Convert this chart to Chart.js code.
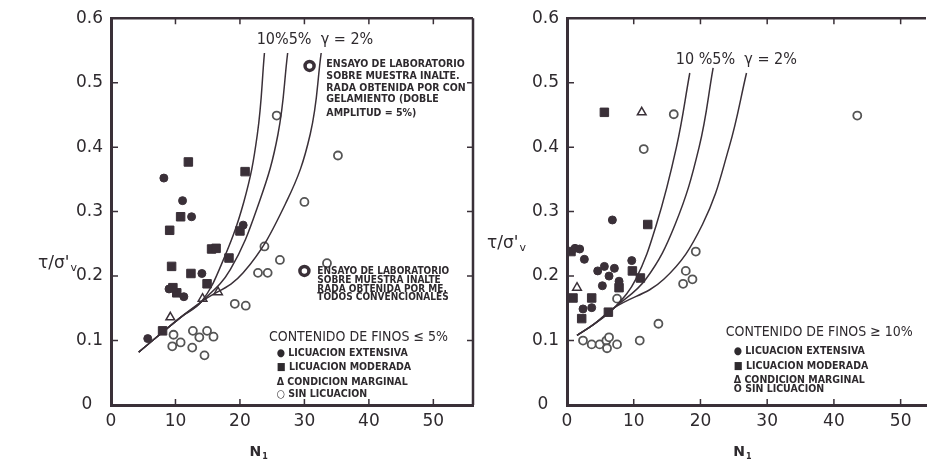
<!DOCTYPE html>
<html>
<head>
<meta charset="utf-8">
<script src="https://cdn.jsdelivr.net/npm/chart.js@4.4.1/dist/chart.umd.min.js"></script>
<style>
html, body { margin: 0; padding: 0; background: #fff; }
#wrap { position: relative; width: 933px; height: 462px; overflow: hidden; }
canvas { position: absolute; top: 0; }
</style>
</head>
<body>
<div id="wrap">
  <canvas id="leftChart" width="480" height="462" style="left:0;width:480px;height:462px"></canvas>
  <canvas id="rightChart" width="453" height="462" style="left:480px;width:453px;height:462px"></canvas>
</div>
<script>
// ---- data: [N1, tau/sigma'v] ----
const xTicks = [0, 10, 20, 30, 40, 50];
const yTicks = [0, 0.1, 0.2, 0.3, 0.4, 0.5, 0.6];

// left panel: fines content <= 5%
const leftExtensiva = [[8.2, 0.352], [11.1, 0.317], [12.5, 0.292], [14.1, 0.204], [9.0, 0.180],
  [11.3, 0.168], [5.7, 0.103], [20.5, 0.279]];
const leftModerada = [[12.0, 0.377], [10.8, 0.292], [9.1, 0.271], [20.8, 0.362], [20.0, 0.270],
  [15.6, 0.242], [16.3, 0.243], [18.3, 0.228], [9.4, 0.215], [12.4, 0.204], [14.9, 0.188],
  [10.2, 0.174], [9.6, 0.182], [8.0, 0.115]];
const leftMarginal = [[9.2, 0.136], [14.2, 0.165], [16.6, 0.175]];
const leftSin = [[25.7, 0.449], [35.2, 0.387], [30.0, 0.315], [23.8, 0.246], [26.2, 0.225],
  [22.8, 0.205], [24.3, 0.205], [33.5, 0.220], [19.2, 0.157], [20.9, 0.154], [12.7, 0.115],
  [14.9, 0.115], [9.7, 0.109], [9.5, 0.091], [10.8, 0.097], [12.6, 0.089], [13.7, 0.105],
  [15.9, 0.106], [14.5, 0.077]];
const leftCurve10 = [[4.3, 0.082], [10.8, 0.136], [14.0, 0.160], [17.0, 0.215],
  [20.6, 0.315], [22.7, 0.420], [23.8, 0.546]];
const leftCurve5 = [[4.3, 0.082], [10.8, 0.136], [14.0, 0.160], [18.5, 0.210],
  [23.0, 0.315], [25.9, 0.420], [27.4, 0.546]];
const leftCurve2 = [[4.3, 0.082], [10.8, 0.136], [14.0, 0.160], [20.5, 0.205],
  [27.2, 0.315], [30.9, 0.420], [32.6, 0.546]];

// right panel: fines content >= 10%
const rightExtensiva = [[6.8, 0.287], [1.2, 0.243], [1.9, 0.242], [2.6, 0.226], [4.6, 0.208],
  [5.6, 0.215], [7.1, 0.212], [6.3, 0.200], [7.8, 0.192], [5.3, 0.185], [9.7, 0.224],
  [2.4, 0.149], [3.7, 0.151]];
const rightModerada = [[5.6, 0.454], [12.1, 0.280], [0.9, 0.166], [3.7, 0.166], [2.2, 0.134],
  [9.8, 0.208], [7.8, 0.182], [6.2, 0.144], [11.0, 0.197], [0.6, 0.238]];
const rightMarginal = [[11.2, 0.454], [1.5, 0.182]];
const rightSin = [[16.0, 0.451], [11.5, 0.397], [43.5, 0.449], [19.3, 0.238], [17.8, 0.208],
  [18.8, 0.195], [17.4, 0.188], [7.5, 0.165], [13.7, 0.126], [10.9, 0.100], [2.4, 0.100],
  [3.7, 0.094], [4.9, 0.094], [5.9, 0.100], [6.3, 0.105], [6.0, 0.088], [7.5, 0.094]];
const rightCurve10 = [[1.5, 0.108], [4.0, 0.125], [7.1, 0.151], [10.3, 0.195],
  [13.4, 0.280], [16.4, 0.400], [18.4, 0.515]];
const rightCurve5 = [[1.5, 0.108], [4.0, 0.125], [7.1, 0.151], [11.8, 0.195],
  [16.2, 0.280], [19.8, 0.400], [21.9, 0.523]];
const rightCurve2 = [[1.5, 0.108], [4.0, 0.125], [7.1, 0.151], [14.5, 0.195],
  [20.3, 0.280], [24.3, 0.400], [26.9, 0.515]];

const INK = "#3a3038";
const TXT = "#2e2a2e";
const tickFont = { family: "'DejaVu Sans', sans-serif", size: 17 };
const narrow = "'DejaVu Sans Condensed', 'Liberation Sans Narrow', 'DejaVu Sans', sans-serif";

const pts = arr => arr.map(p => ({ x: p[0], y: p[1] }));

function markSets(ext, mod, marg, sin) {
  return [
    { data: pts(ext), pointStyle: "circle", pointRadius: 4, backgroundColor: INK, borderColor: INK, borderWidth: 1 },
    { data: pts(mod), pointStyle: "rect", pointRadius: 6, backgroundColor: INK, borderColor: INK, borderWidth: 1 },
    { data: pts(marg), pointStyle: "triangle", pointRadius: 5, backgroundColor: "#fff", borderColor: INK, borderWidth: 1.5 },
    { data: pts(sin), pointStyle: "circle", pointRadius: 4, backgroundColor: "#fff", borderColor: "#555", borderWidth: 1.8 }
  ];
}
function curveSet(arr) {
  return { data: pts(arr), showLine: true, pointRadius: 0, borderColor: INK, borderWidth: 1.5,
    tension: 0.4, fill: false };
}

// frame: top / right borders and inward tick marks
const frame = {
  id: "frame",
  afterDraw(chart, args, opts) {
    const { ctx, chartArea: a, scales: { x, y } } = chart;
    ctx.save();
    ctx.strokeStyle = INK;
    ctx.lineWidth = 2.5;
    ctx.beginPath();
    ctx.moveTo(a.left, a.top);
    ctx.lineTo(a.right, a.top);
    if (opts.right) { ctx.moveTo(a.right, a.top); ctx.lineTo(a.right, a.bottom); }
    ctx.stroke();
    ctx.lineWidth = 1.5;
    ctx.beginPath();
    xTicks.forEach(v => {
      if (v === 0) return;
      const px = x.getPixelForValue(v);
      ctx.moveTo(px, a.bottom); ctx.lineTo(px, a.bottom - 6);
      ctx.moveTo(px, a.top); ctx.lineTo(px, a.top + 6);
    });
    yTicks.forEach(v => {
      if (v === 0 || v === 0.6) return;
      const py = y.getPixelForValue(v);
      ctx.moveTo(a.left, py); ctx.lineTo(a.left + 7, py);
      if (opts.right) { ctx.moveTo(a.right, py); ctx.lineTo(a.right - 6, py); }
    });
    ctx.stroke();
    ctx.restore();
  }
};

// annotation texts placed in data coordinates (or offsets from the plot edges)
const annot = {
  id: "annot",
  afterDraw(chart, args, opts) {
    const { ctx, chartArea: a, scales: { x, y } } = chart;
    ctx.save();
    ctx.fillStyle = TXT;
    ctx.textBaseline = "middle";
    (opts.texts || []).forEach(t => {
      const px = t.dx !== undefined ? a.left + t.dx : x.getPixelForValue(t.x);
      const py = t.dy !== undefined ? a.bottom + t.dy : y.getPixelForValue(t.y);
      ctx.font = t.font;
      ctx.textAlign = t.align || "left";
      ctx.fillText(t.text, px, py);
      if (t.sub) {
        const w = ctx.textAlign === "center" ? ctx.measureText(t.text).width / 2 : ctx.measureText(t.text).width;
        ctx.font = t.subFont;
        ctx.textAlign = "left";
        ctx.fillText(t.sub, px + w + 1, py + 5);
      }
    });
    (opts.rings || []).forEach(r => {
      ctx.beginPath();
      ctx.strokeStyle = INK;
      ctx.lineWidth = 3.5;
      ctx.arc(x.getPixelForValue(r.x), y.getPixelForValue(r.y), 4.5, 0, Math.PI * 2);
      ctx.stroke();
    });
    ctx.restore();
  }
};

function makeChart(id, sets, xMax, yAxisWidth, padRight, opts) {
  new Chart(document.getElementById(id), {
    type: "scatter",
    data: { datasets: sets },
    options: {
      responsive: false,
      animation: false,
      layout: { padding: { top: 15, right: padRight, left: 0, bottom: 0 } },
      scales: {
        x: {
          type: "linear", min: 0, max: xMax,
          afterBuildTicks: s => { s.ticks = xTicks.map(v => ({ value: v })); },
          afterFit: s => { s.height = 57; },
          ticks: { color: TXT, font: tickFont, padding: 6, maxRotation: 0, callback: v => String(v) },
          grid: { display: false, drawTicks: false },
          border: { color: INK, width: 3 }
        },
        y: {
          type: "linear", min: 0, max: 0.6,
          afterBuildTicks: s => { s.ticks = yTicks.map(v => ({ value: v })); },
          afterFit: s => { s.width = yAxisWidth; },
          ticks: { color: TXT, font: tickFont, padding: 8, callback: v => v === 0 ? "0  " : v.toFixed(1) },
          grid: { display: false, drawTicks: false },
          border: { color: INK, width: 3 }
        }
      },
      plugins: {
        legend: { display: false },
        tooltip: { enabled: false },
        frame: { right: opts.right },
        annot: opts.annot
      }
    },
    plugins: [frame, annot]
  });
}

const boldNarrow = s => "bold " + s + "px " + narrow;

makeChart("leftChart",
  [curveSet(leftCurve10), curveSet(leftCurve5), curveSet(leftCurve2)]
    .concat(markSets(leftExtensiva, leftModerada, leftMarginal, leftSin)),
  56.15, 111, 4,
  {
    right: true,
    annot: {
      rings: [{ x: 30.8, y: 0.526 }, { x: 30.0, y: 0.208 }],
      texts: [
        { x: 22.6, y: 0.566, text: "10%5%  \u03b3 = 2%", font: "16px " + narrow },
        { x: 33.4, y: 0.528, text: "ENSAYO DE LABORATORIO", font: boldNarrow(10.5) },
        { x: 33.4, y: 0.510, text: "SOBRE MUESTRA INALTE.", font: boldNarrow(10.5) },
        { x: 33.4, y: 0.492, text: "RADA OBTENIDA POR CON", font: boldNarrow(10.5) },
        { x: 33.4, y: 0.474, text: "GELAMIENTO (DOBLE", font: boldNarrow(10.5) },
        { x: 33.4, y: 0.453, text: "AMPLITUD = 5%)", font: boldNarrow(10.5) },
        { x: 32.0, y: 0.207, text: "ENSAYO DE LABORATORIO", font: boldNarrow(10) },
        { x: 32.0, y: 0.193, text: "SOBRE MUESTRA INALTE", font: boldNarrow(10) },
        { x: 32.0, y: 0.180, text: "RADA OBTENIDA POR ME.", font: boldNarrow(10) },
        { x: 32.0, y: 0.167, text: "TODOS CONVENCIONALES", font: boldNarrow(10) },
        { x: 24.5, y: 0.105, text: "CONTENIDO DE FINOS \u2264 5%", font: "14px " + narrow },
        { x: 25.7, y: 0.080, text: "\u25cf LICUACION EXTENSIVA", font: boldNarrow(10.5) },
        { x: 25.7, y: 0.058, text: "\u25a0 LICUACION MODERADA", font: boldNarrow(10.5) },
        { x: 25.7, y: 0.035, text: "\u0394 CONDICION MARGINAL", font: boldNarrow(10.5) },
        { x: 25.7, y: 0.017, text: "\u25cb SIN LICUACION", font: boldNarrow(10.5) },
        { dx: -73, y: 0.22, text: "\u03c4/\u03c3'", sub: "v", font: "17px 'DejaVu Sans', sans-serif", subFont: "11px 'DejaVu Sans', sans-serif" },
        { x: 22.4, dy: 47, text: "N", sub: "1", align: "center", font: "bold 14px 'DejaVu Sans', sans-serif", subFont: "bold 8px 'DejaVu Sans', sans-serif" }
      ]
    }
  });

makeChart("rightChart",
  [curveSet(rightCurve10), curveSet(rightCurve5), curveSet(rightCurve2)]
    .concat(markSets(rightExtensiva, rightModerada, rightMarginal, rightSin)),
  53.8, 87, 0,
  {
    right: false,
    annot: {
      texts: [
        { x: 16.3, y: 0.535, text: "10 %5%  \u03b3 = 2%", font: "16px " + narrow },
        { x: 23.8, y: 0.112, text: "CONTENIDO DE FINOS \u2265 10%", font: "14px " + narrow },
        { x: 25.0, y: 0.083, text: "\u25cf LICUACION EXTENSIVA", font: boldNarrow(10.5) },
        { x: 25.0, y: 0.060, text: "\u25a0 LICUACION MODERADA", font: boldNarrow(10.5) },
        { x: 25.0, y: 0.039, text: "\u0394 CONDICION MARGINAL", font: boldNarrow(10.5) },
        { x: 25.0, y: 0.025, text: "O SIN LICUACION", font: boldNarrow(10.5) },
        { dx: -80, y: 0.251, text: "\u03c4/\u03c3'", sub: "v", font: "17px 'DejaVu Sans', sans-serif", subFont: "11px 'DejaVu Sans', sans-serif" },
        { x: 25.8, dy: 47, text: "N", sub: "1", align: "center", font: "bold 14px 'DejaVu Sans', sans-serif", subFont: "bold 8px 'DejaVu Sans', sans-serif" }
      ]
    }
  });
</script>
</body>
</html>
